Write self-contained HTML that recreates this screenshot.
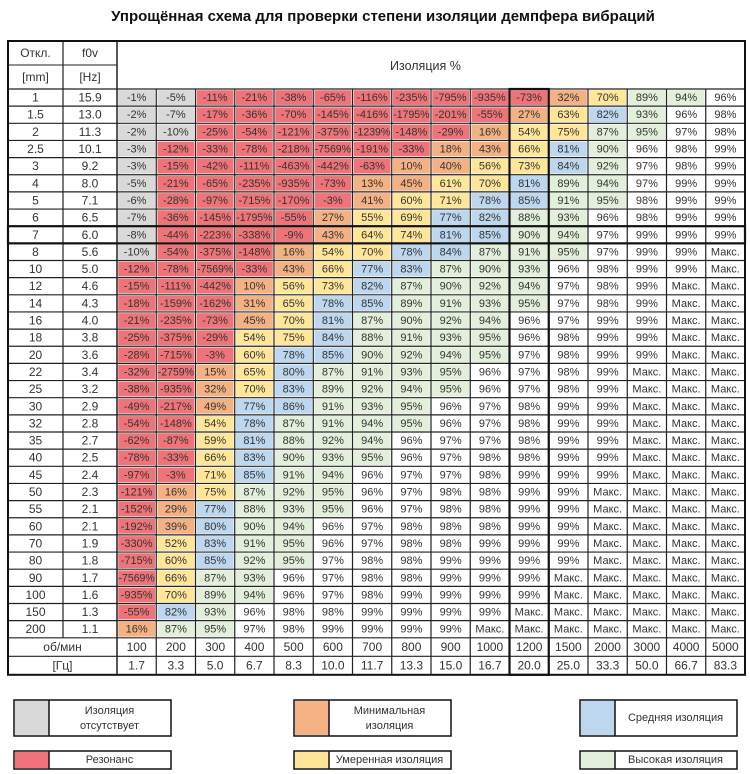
<!DOCTYPE html>
<html><head><meta charset="utf-8">
<style>
html,body{margin:0;padding:0;background:#fff;}
svg{display:block;font-family:"Liberation Sans","DejaVu Sans",sans-serif;}
</style></head>
<body>
<svg id="chart" width="750" height="774" viewBox="0 0 750 774" xmlns="http://www.w3.org/2000/svg">
<text x="383" y="21" text-anchor="middle" font-size="15" font-weight="bold" fill="#111">Упрощённая схема для проверки степени изоляции демпфера вибраций</text>
<g id="grid"></g>
<g id="legend"></g>
</svg>
<script>
const rowsMm = ["1","1.5","2","2.5","3","4","5","6","7","8","10","12","14","16","18","20","22","25","30","32","35","40","45","50","55","60","70","80","90","100","150","200"];
const rowsHz = ["15.9","13.0","11.3","10.1","9.2","8.0","7.1","6.5","6.0","5.6","5.0","4.6","4.3","4.0","3.8","3.6","3.4","3.2","2.9","2.8","2.7","2.5","2.4","2.3","2.1","2.1","1.9","1.8","1.7","1.6","1.3","1.1"];
const rpmLabels = ["100","200","300","400","500","600","700","800","900","1000","1200","1500","2000","3000","4000","5000"];
const hzLabels = ["1.7","3.3","5.0","6.7","8.3","10.0","11.7","13.3","15.0","16.7","20.0","25.0","33.3","50.0","66.7","83.3"];
const M = null; // "Макс."
const isolation = [
[-1,-5,-11,-21,-38,-65,-116,-235,-795,-935,-73,32,70,89,94,96],
[-2,-7,-17,-36,-70,-145,-416,-1795,-201,-55,27,63,82,93,96,98],
[-2,-10,-25,-54,-121,-375,-1239,-148,-29,16,54,75,87,95,97,98],
[-3,-12,-33,-78,-218,-7569,-191,-33,18,43,66,81,90,96,98,99],
[-3,-15,-42,-111,-463,-442,-63,10,40,56,73,84,92,97,98,99],
[-5,-21,-65,-235,-935,-73,13,45,61,70,81,89,94,97,99,99],
[-6,-28,-97,-715,-170,-3,41,60,71,78,85,91,95,98,99,99],
[-7,-36,-145,-1795,-55,27,55,69,77,82,88,93,96,98,99,99],
[-8,-44,-223,-338,-9,43,64,74,81,85,90,94,97,99,99,99],
[-10,-54,-375,-148,16,54,70,78,84,87,91,95,97,99,99,M],
[-12,-78,-7569,-33,43,66,77,83,87,90,93,96,98,99,99,M],
[-15,-111,-442,10,56,73,82,87,90,92,94,97,98,99,M,M],
[-18,-159,-162,31,65,78,85,89,91,93,95,97,98,99,M,M],
[-21,-235,-73,45,70,81,87,90,92,94,96,97,99,99,M,M],
[-25,-375,-29,54,75,84,88,91,93,95,96,98,99,99,M,M],
[-28,-715,-3,60,78,85,90,92,94,95,97,98,99,99,M,M],
[-32,-2759,15,65,80,87,91,93,95,96,97,98,99,M,M,M],
[-38,-935,32,70,83,89,92,94,95,96,97,98,99,M,M,M],
[-49,-217,49,77,86,91,93,95,96,97,98,99,99,M,M,M],
[-54,-148,54,78,87,91,94,95,96,97,98,99,99,M,M,M],
[-62,-87,59,81,88,92,94,96,97,97,98,99,99,M,M,M],
[-78,-33,66,83,90,93,95,96,97,98,98,99,99,M,M,M],
[-97,-3,71,85,91,94,96,97,97,98,99,99,99,M,M,M],
[-121,16,75,87,92,95,96,97,98,98,99,99,M,M,M,M],
[-152,29,77,88,93,95,96,97,98,98,99,99,M,M,M,M],
[-192,39,80,90,94,96,97,98,98,98,99,99,M,M,M,M],
[-330,52,83,91,95,96,97,98,98,99,99,99,M,M,M,M],
[-715,60,85,92,95,97,98,98,99,99,99,99,M,M,M,M],
[-7569,66,87,93,96,97,98,98,99,99,99,M,M,M,M,M],
[-935,70,89,94,96,97,98,99,99,99,99,M,M,M,M,M],
[-55,82,93,96,98,98,99,99,99,99,M,M,M,M,M,M],
[16,87,95,97,98,99,99,99,99,M,M,M,M,M,M,M]
];
const legendLabels = [["Изоляция","отсутствует"],["Минимальная","изоляция"],["Средняя изоляция"],["Резонанс"],["Умеренная изоляция"],["Высокая изоляция"]];

const NS="http://www.w3.org/2000/svg";
const COL={gray:"#d9d9d9",red:"#ef7479",orange:"#f4b183",yellow:"#ffe699",blue:"#bdd7ee",green:"#e2efda",white:"#ffffff"};
const legendColors=[COL.gray,COL.orange,COL.blue,COL.red,COL.yellow,COL.green];
const X0=8, C1=63, C2=117, XEND=745, TOP=41, HMID=65, DTOP=89, RH=17.15, FH=18.5;
const CW=(XEND-C2)/rpmLabels.length;
const xCol=i=>C2+i*CW;
const yRow=r=>DTOP+r*RH;
const DEND=yRow(rowsMm.length);
const TEND=DEND+2*FH;
function mk(tag,attrs,parent){const e=document.createElementNS(NS,tag);for(const k in attrs)e.setAttribute(k,attrs[k]);parent.appendChild(e);return e;}
function txt(parent,x,y,s,size,anchor,name){const t=mk("text",{x:x,y:y,"font-size":size,"text-anchor":anchor||"middle","dominant-baseline":"central",fill:"#333"},parent);t.textContent=s;return t;}
function category(row,i){
  const v=row[i];
  if(v===null) return "white";
  if(v<0){let mi=0;row.forEach((u,j)=>{if(u!==null&&u<row[mi])mi=j;});return (v>=-10&&i<mi)?"gray":"red";}
  if(v<50) return "orange"; if(v<77) return "yellow"; if(v<=86) return "blue"; if(v<=95) return "green"; return "white";
}
const g=document.getElementById("grid");
txt(g,(X0+C1)/2,(TOP+HMID)/2,"Откл.",12,"middle","header-deflection");
txt(g,(X0+C1)/2,(HMID+DTOP)/2,"[mm]",12,"middle","header-mm");
txt(g,(C1+C2)/2,(TOP+HMID)/2,"f0v",12,"middle","header-f0v");
txt(g,(C1+C2)/2,(HMID+DTOP)/2,"[Hz]",12,"middle","header-hz");
txt(g,390,66,"Изоляция %",12.5,"start","header-isolation");
isolation.forEach((row,r)=>{
  const y=yRow(r);
  txt(g,(X0+C1)/2,y+RH/2,rowsMm[r],12,"middle","deflection-"+rowsMm[r]);
  txt(g,(C1+C2)/2,y+RH/2,rowsHz[r],12,"middle","frequency-"+rowsHz[r]);
  row.forEach((v,i)=>{
    const x=xCol(i);
    const rc=mk("rect",{x:x+1.2,y:y+1.2,width:CW-2.4,height:RH-2.4,fill:COL[category(row,i)]},g);
    
    
    const s=v===null?"Макс.":v+"%";
    const t=txt(g,x+CW/2,y+RH/2+0.5,s,11,"middle","cell-value");
    if(s.length>=6){t.setAttribute("textLength",CW-3);t.setAttribute("lengthAdjust","spacingAndGlyphs");}
  });
});
txt(g,(X0+C2)/2,DEND+FH/2,"об/мин",12,"middle","footer-rpm-label");
txt(g,(X0+C2)/2,DEND+FH*1.5,"[Гц]",12,"middle","footer-hz-label");
rpmLabels.forEach((s,i)=>{txt(g,xCol(i)+CW/2,DEND+FH/2,s,12,"middle","rpm-"+s);txt(g,xCol(i)+CW/2,DEND+FH*1.5,hzLabels[i],12,"middle","hz-"+hzLabels[i]);});
const L=(x1,y1,x2,y2,w)=>mk("line",{x1:x1,y1:y1,x2:x2,y2:y2,stroke:"#222","stroke-width":w||1},g);
L(X0,HMID,C2,HMID);
for(let r=0;r<=rowsMm.length;r++)L(X0,yRow(r),XEND,yRow(r),1.2);
L(X0,DEND+FH,XEND,DEND+FH,1.2);
L(C1,TOP,C1,DEND,1.2);
L(C2,TOP,C2,TEND,1.5);
for(let i=1;i<rpmLabels.length;i++)L(xCol(i),DTOP,xCol(i),TEND,1.2);
const r7=rowsMm.indexOf("7");
mk("rect",{x:X0,y:yRow(r7),width:XEND-X0,height:RH,fill:"none",stroke:"#111","stroke-width":2.2},g);
const c12=rpmLabels.indexOf("1200");
mk("rect",{x:xCol(c12),y:DTOP,width:CW,height:TEND-DTOP,fill:"none",stroke:"#111","stroke-width":2.2},g);
mk("rect",{x:X0,y:TOP,width:XEND-X0,height:TEND-TOP,fill:"none",stroke:"#111","stroke-width":2},g);
const lg=document.getElementById("legend");
const lx=[14,294,580], ly=[[700,36],[751,18]];
legendLabels.forEach((lab,k)=>{
  const col=k%3,row=Math.floor(k/3);
  const x=lx[col],y=ly[row][0],h=ly[row][1],w=157,sw=34;
  const box=mk("rect",{x:x,y:y,width:w,height:h,fill:"#fff",stroke:"#111","stroke-width":1.5},lg);
  
  
  mk("rect",{x:x+1,y:y+1,width:sw,height:h-2,fill:legendColors[k]},lg);
  mk("line",{x1:x+sw+1,y1:y,x2:x+sw+1,y2:y+h,stroke:"#111","stroke-width":1.5},lg);
  const cx=x+sw+(w-sw)/2;
  if(lab.length===2){txt(lg,cx,y+h/2-7,lab[0],11,"middle","legend-label");txt(lg,cx,y+h/2+8,lab[1],11,"middle","legend-label");}
  else txt(lg,cx,y+h/2,lab[0],11,"middle","legend-label");
});
</script>
</body></html>
